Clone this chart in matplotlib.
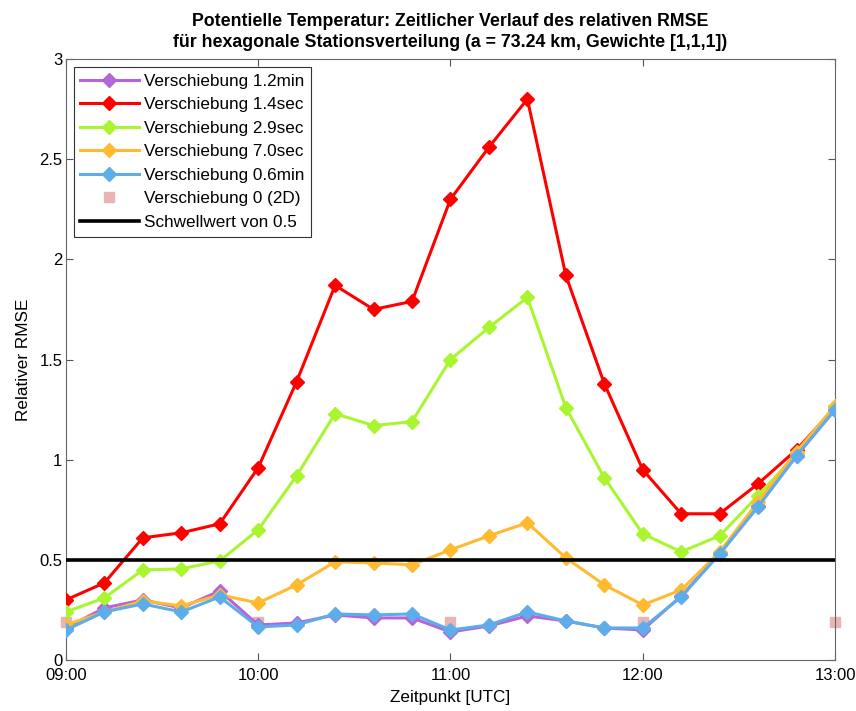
import matplotlib.pyplot as plt

# Zeitachse: 09:00 bis 13:00 alle 12 Minuten (in Stunden)
zeit = [9.0, 9.2, 9.4, 9.6, 9.8, 10.0, 10.2, 10.4, 10.6, 10.8, 11.0,
        11.2, 11.4, 11.6, 11.8, 12.0, 12.2, 12.4, 12.6, 12.8, 13.0]

v_12min = [0.16, 0.26, 0.30, 0.26, 0.345, 0.175, 0.185, 0.225, 0.21, 0.21, 0.14,
           0.17, 0.22, 0.195, 0.16, 0.15, 0.32, 0.53, 0.77, 1.02, 1.25]
v_14sec = [0.30, 0.385, 0.61, 0.635, 0.68, 0.96, 1.39, 1.87, 1.75, 1.79, 2.30,
           2.56, 2.80, 1.92, 1.38, 0.95, 0.73, 0.73, 0.88, 1.05, 1.26]
v_29sec = [0.24, 0.31, 0.45, 0.455, 0.495, 0.65, 0.92, 1.23, 1.17, 1.19, 1.50,
           1.66, 1.81, 1.26, 0.91, 0.63, 0.54, 0.62, 0.82, 1.03, 1.26]
v_70sec = [0.175, 0.24, 0.295, 0.27, 0.325, 0.285, 0.375, 0.49, 0.485, 0.475, 0.55,
           0.62, 0.685, 0.51, 0.375, 0.275, 0.35, 0.54, 0.79, 1.04, 1.27]
v_06min = [0.15, 0.24, 0.28, 0.24, 0.315, 0.165, 0.175, 0.23, 0.225, 0.23, 0.15,
           0.175, 0.24, 0.195, 0.16, 0.16, 0.315, 0.53, 0.765, 1.02, 1.25]

zeit_2d = [9.0, 10.0, 11.0, 12.0, 13.0]
v_2d = [0.19, 0.19, 0.19, 0.19, 0.19]

schwelle = 0.5

x_ticks = [9, 10, 11, 12, 13]
x_labels = ["09:00", "10:00", "11:00", "12:00", "13:00"]
y_ticks = [0, 0.5, 1, 1.5, 2, 2.5, 3]
y_labels = ["0", "0.5", "1", "1.5", "2", "2.5", "3"]

plt.rcParams["font.family"] = ["Liberation Sans", "DejaVu Sans"]

fig = plt.figure(figsize=(8.56, 7.11), dpi=100)
ax = fig.add_axes([0.077, 0.0717, 0.8985, 0.8453])

serien = [
    (v_12min, "#B565D9", "Verschiebung 1.2min"),
    (v_14sec, "#FF0000", "Verschiebung 1.4sec"),
    (v_29sec, "#A8F530", "Verschiebung 2.9sec"),
    (v_70sec, "#FFBA30", "Verschiebung 7.0sec"),
    (v_06min, "#5EADEB", "Verschiebung 0.6min"),
]
for werte, farbe, name in serien:
    ax.plot(zeit, werte, color=farbe, lw=2.2, marker="D", markersize=7,
            label=name, zorder=3)

ax.plot(zeit_2d, v_2d, ls="none", marker="s", markersize=7, color="#E8B4B4",
        label="Verschiebung 0 (2D)", clip_on=False, zorder=2)
ax.axhline(schwelle, color="black", lw=2.6, label="Schwellwert von 0.5", zorder=4)

ax.set_xlim(9, 13)
ax.set_ylim(0, 3)
ax.set_xticks(x_ticks)
ax.set_xticklabels(x_labels)
ax.set_yticks(y_ticks)
ax.set_yticklabels(y_labels)
ax.tick_params(direction="in", top=True, right=True, labelsize=12, length=5,
               color="#555555")
ax.tick_params(axis="x", pad=5.5)
ax.tick_params(axis="y", pad=2.5)
for s in ax.spines.values():
    s.set_color("#666666")

ax.set_xlabel("Zeitpunkt [UTC]", fontsize=12.3, labelpad=5)
ax.set_ylabel("Relativer RMSE", fontsize=12.3, labelpad=6)

ax.set_title("Potentielle Temperatur: Zeitlicher Verlauf des relativen RMSE\n"
             "für hexagonale Stationsverteilung (a = 73.24 km, Gewichte [1,1,1])",
             fontsize=12.8, fontweight="bold", linespacing=1.25, pad=9)

leg = ax.legend(loc="upper left", fontsize=12.3, fancybox=False, framealpha=1,
                edgecolor="#333333", handlelength=3.4, borderaxespad=0.45,
                labelspacing=0.5, handletextpad=0.3, borderpad=0.4)
leg.get_frame().set_linewidth(0.8)

plt.savefig("out.png", dpi=100)
